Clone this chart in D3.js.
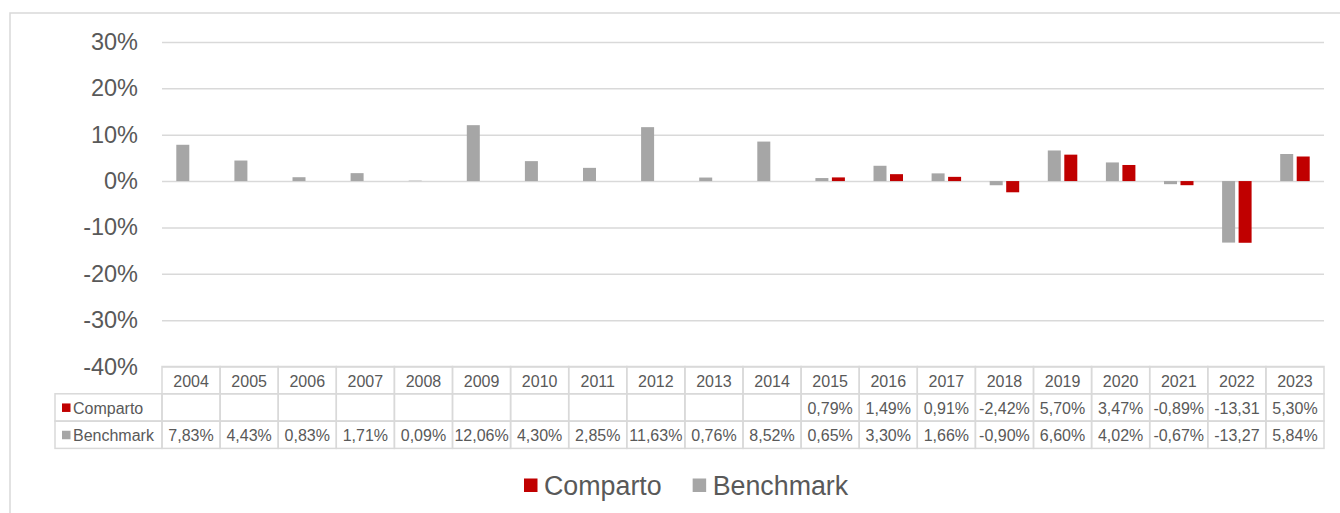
<!DOCTYPE html>
<html>
<head>
<meta charset="utf-8">
<script src="https://cdn.jsdelivr.net/npm/d3@7"></script>
<style>
  body { margin: 0; background: #fff; }
  svg { display: block; font-family: "Liberation Sans", Arial, sans-serif; }
</style>
</head>
<body>
<div id="chart"></div>
<script>
var years = ["2004","2005","2006","2007","2008","2009","2010","2011","2012","2013",
             "2014","2015","2016","2017","2018","2019","2020","2021","2022","2023"];
var comparto = [null,null,null,null,null,null,null,null,null,null,
                null,0.79,1.49,0.91,-2.42,5.70,3.47,-0.89,-13.31,5.30];
var benchmark = [7.83,4.43,0.83,1.71,0.09,12.06,4.30,2.85,11.63,0.76,
                 8.52,0.65,3.30,1.66,-0.90,6.60,4.02,-0.67,-13.27,5.84];
var yTicks = [30, 20, 10, 0, -10, -20, -30, -40];
var seriesNames = ["Comparto", "Benchmark"];
var seriesColors = { Comparto: "#c00000", Benchmark: "#a6a6a6" };

var width = 1340, height = 513;
var plot = { left: 162, right: 1324, top: 42, bottom: 366.5 };
var rowH = 27.3;
var gridColor = "#d9d9d9", textColor = "#595959";

var svg = d3.select("#chart").append("svg")
  .attr("width", width)
  .attr("height", height);

// outer frame
svg.append("rect")
  .attr("x", 10).attr("y", 13)
  .attr("width", 1400).attr("height", 600)
  .attr("fill", "none")
  .attr("stroke", gridColor)
  .attr("stroke-width", 1.5);

var x = d3.scaleBand()
  .domain(years)
  .range([plot.left, plot.right]);

var xInner = d3.scaleBand()
  .domain(["Benchmark", "Comparto"])
  .range([0, x.bandwidth()])
  .paddingInner(0.212)
  .paddingOuter(0.867);

var y = d3.scaleLinear()
  .domain([-40, 30])
  .range([plot.bottom, plot.top]);

// gridlines + y labels
var yAxis = d3.axisLeft(y)
  .tickValues(yTicks)
  .tickSize(-(plot.right - plot.left))
  .tickPadding(24)
  .tickFormat(function(d) { return d + "%"; });

var yGuide = svg.append("g")
  .attr("transform", "translate(" + plot.left + ",0)")
  .call(yAxis);
yGuide.select(".domain").remove();
yGuide.selectAll("line")
  .attr("stroke", gridColor)
  .attr("stroke-width", 1.5);
yGuide.selectAll("text")
  .attr("fill", textColor)
  .style("font-size", "23.5px")
  .style("font-family", "'Liberation Sans', Arial, sans-serif");

// bars
var series = [
  { name: "Benchmark", values: benchmark },
  { name: "Comparto", values: comparto }
];

series.forEach(function(s) {
  var rows = years.map(function(yr, i) { return { year: yr, v: s.values[i] }; })
    .filter(function(d) { return d.v !== null; });
  svg.append("g").selectAll("rect")
    .data(rows)
    .enter().append("rect")
      .attr("x", function(d) { return x(d.year) + xInner(s.name); })
      .attr("width", xInner.bandwidth())
      .attr("y", function(d) { return y(Math.max(0, d.v)); })
      .attr("height", function(d) { return Math.abs(y(d.v) - y(0)); })
      .attr("fill", seriesColors[s.name]);
});

// data table
var tableTop = plot.bottom;
var legendColLeft = 55;
var tbl = svg.append("g");
var fmt = d3.formatLocale({ decimal: ",", thousands: ".", grouping: [3], currency: ["", "€"], minus: "-" }).format(".2f");

function cellText(g, str, cx, cy, maxW) {
  var t = g.append("text")
    .attr("x", cx).attr("y", cy)
    .attr("text-anchor", "middle")
    .attr("dominant-baseline", "central")
    .attr("fill", textColor)
    .style("font-size", "16px")
    .text(str);
  // Excel-like clipping: drop trailing chars that don't fit
  while (maxW && t.node().getComputedTextLength() > maxW && str.length > 1) {
    str = str.slice(0, -1);
    t.text(str);
  }
  return t;
}

// header row
years.forEach(function(yr) {
  tbl.append("rect")
    .attr("x", x(yr)).attr("y", tableTop)
    .attr("width", x.bandwidth()).attr("height", rowH)
    .attr("fill", "none").attr("stroke", gridColor).attr("stroke-width", 1.5);
  cellText(tbl, yr, x(yr) + x.bandwidth() / 2, tableTop + rowH / 2 + 1);
});

seriesNames.forEach(function(name, r) {
  var s = name === "Comparto" ? comparto : benchmark;
  var ry = tableTop + rowH * (r + 1);
  tbl.append("rect")
    .attr("x", legendColLeft).attr("y", ry)
    .attr("width", plot.left - legendColLeft).attr("height", rowH)
    .attr("fill", "none").attr("stroke", gridColor).attr("stroke-width", 1.5);
  tbl.append("rect")
    .attr("x", legendColLeft + 7).attr("y", ry + rowH / 2 - 4)
    .attr("width", 8.5).attr("height", 8.5)
    .attr("fill", seriesColors[name]);
  tbl.append("text")
    .attr("x", legendColLeft + 18).attr("y", ry + rowH / 2 + 1)
    .attr("dominant-baseline", "central")
    .attr("fill", textColor)
    .style("font-size", "16px")
    .text(name);
  years.forEach(function(yr, i) {
    tbl.append("rect")
      .attr("x", x(yr)).attr("y", ry)
      .attr("width", x.bandwidth()).attr("height", rowH)
      .attr("fill", "none").attr("stroke", gridColor).attr("stroke-width", 1.5);
    if (s[i] !== null) {
      cellText(tbl, fmt(s[i]) + "%", x(yr) + x.bandwidth() / 2, ry + rowH / 2 + 1, x.bandwidth() - 3);
    }
  });
});

// legend
var legend = svg.append("g").attr("transform", "translate(524,485)");
var lx = 0;
seriesNames.forEach(function(name) {
  var item = legend.append("g").attr("transform", "translate(" + lx + ",0)");
  item.append("rect")
    .attr("x", 0).attr("y", -6.5)
    .attr("width", 13.5).attr("height", 13.5)
    .attr("fill", seriesColors[name]);
  var t = item.append("text")
    .attr("x", 20).attr("y", 1)
    .attr("dominant-baseline", "central")
    .attr("fill", textColor)
    .style("font-size", "26.8px")
    .text(name);
  lx += 20 + t.node().getComputedTextLength() + 31;
});
</script>
</body>
</html>
